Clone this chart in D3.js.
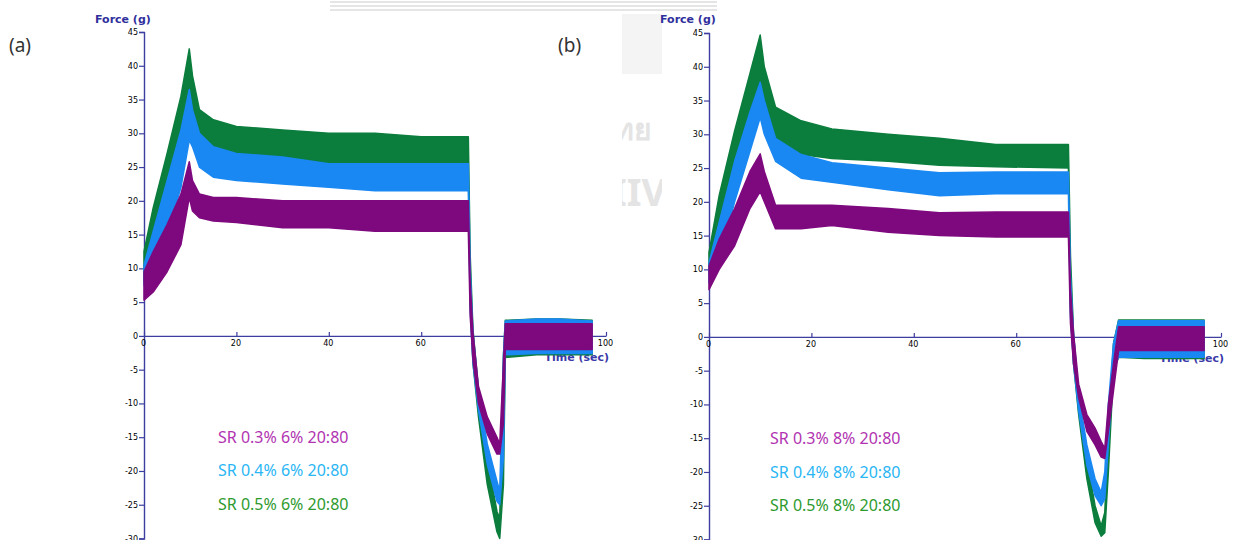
<!DOCTYPE html>
<html>
<head>
<meta charset="utf-8">
<script src="https://cdn.jsdelivr.net/npm/d3@7"></script>
<style>
  body { margin: 0; background: #fff; }
  svg { display: block; }
</style>
</head>
<body>
<div id="chart"></div>
<script>
// Force (g) vs Time (sec) traces, two panels, noisy traces drawn as hi/lo bands

// panel (a) - 6%
const timeA      = [0, 2, 5, 8, 9.8, 10.5, 12, 15, 20, 30, 40, 50, 60, 70.2, 70.6, 71.2, 72.4, 74.3, 76.4, 77.0, 77.8, 78.2, 85, 90, 97];
const greenHiA   = [12.5, 19, 27, 35.5, 42.5, 38.5, 33.5, 32, 31, 30.5, 30, 30, 29.5, 29.5, 12, 1, -8, -18, -26, -27, -3, 2.3, 2.5, 2.5, 2.3];
const greenLoA   = [8, 11, 17.5, 26, 32, 30.5, 28.5, 27, 26.5, 26, 25.5, 25.5, 25, 25, 5, -4, -12, -22, -29, -30, -22, -3.2, -2.8, -2.8, -2.8];
const blueHiA    = [10.5, 15.5, 23, 30.5, 36.5, 33.5, 30, 28, 27, 26.5, 25.5, 25.5, 25.5, 25.5, 10, 0.5, -8, -16, -21.5, -23, -3, 2.2, 2.5, 2.5, 2.2];
const blueLoA    = [7.5, 9.5, 15, 22, 29, 28, 25, 23.5, 23, 22.5, 22, 21.5, 21.5, 21.5, 4, -4, -11, -19, -24.5, -25, -18, -2.8, -2.6, -2.6, -2.6];
const purpleHiA  = [9.5, 12.5, 16.5, 21, 25.8, 23, 21, 20.5, 20.5, 20, 20, 20, 20, 20, 8, 0.5, -7.5, -12, -15, -16, -4, 1.8, 1.8, 1.8, 1.8];
const purpleLoA  = [5.3, 6.5, 9.5, 13.5, 20.5, 18.5, 17.5, 17, 16.8, 16, 16, 15.5, 15.5, 15.5, 3, -3.5, -10, -14.5, -17.5, -17.5, -13, -2, -2, -2, -2];

// panel (b) - 8%
const timeB      = [0, 2, 5, 8, 10, 10.8, 13, 18, 24, 35, 45, 56, 70.2, 70.6, 71.2, 72.2, 73.8, 75.4, 76.6, 77.3, 78, 79, 80, 85, 90, 96.7];
const greenHiB   = [12.5, 21, 30.5, 39, 44.7, 40, 34, 32, 30.8, 30, 29.4, 28.5, 28.5, 12, 0.5, -9, -18, -25, -28, -26, -14, -1, 2.5, 2.5, 2.5, 2.5];
const greenLoB   = [9, 13.5, 22.5, 30.5, 38, 33, 28.3, 27, 26.4, 26, 25.4, 25.2, 25, 4, -4, -11.5, -21, -27.5, -29.5, -29, -20, -5, -3, -3.2, -3.2, -3.2];
const blueHiB    = [11, 17, 26, 33.3, 37.7, 35, 29.4, 27, 25.8, 25, 24.3, 24.4, 24.4, 9, 0.5, -8.5, -16, -21, -23, -20, -10, -1, 2.4, 2.4, 2.4, 2.4];
const blueLoB    = [8, 11, 20, 27.5, 32.5, 30, 26, 23.5, 22.9, 21.8, 20.9, 21.2, 21.2, 3, -4, -11, -19, -23.5, -25, -24, -16, -4.5, -3, -3, -3, -3];
const purpleHiB  = [10.5, 14.5, 19, 24.5, 27.1, 24.5, 19.5, 19.5, 19.5, 19, 18.4, 18.5, 18.5, 7, 0.5, -7, -11.5, -13.5, -15.5, -16.5, -10, -4, 1.5, 1.5, 1.5, 1.5];
const purpleLoB  = [7, 10, 13.5, 19, 21.5, 20, 16, 16, 16.5, 15.5, 15, 14.8, 14.8, 2, -4, -9, -14, -16, -17.8, -18, -14, -8, -2, -2, -2, -2];

const legendA = ["SR 0.3% 6% 20:80", "SR 0.4% 6% 20:80", "SR 0.5% 6% 20:80"];
const legendB = ["SR 0.3% 8% 20:80", "SR 0.4% 8% 20:80", "SR 0.5% 8% 20:80"];

const xTicks = [0, 20, 40, 60, 80, 100];
const yTicks = [-30, -25, -20, -15, -10, -5, 0, 5, 10, 15, 20, 25, 30, 35, 40, 45];

const traceColors  = { green: "#0b7d3d", blue: "#1a88f2", purple: "#7e097e" };
const legendColors = ["#b133b1", "#2ab6f4", "#2e9a2e"];
const axisColor = "#3e3ea0";

const svg = d3.select("#chart")
    .append("svg")
    .attr("width", 1241)
    .attr("height", 540)
    .style("background", "#fff");

// faint watermark from the source page
const wm = svg.append("g").attr("fill", "none").attr("stroke", "#dcdcdc");
[2, 6, 10].forEach(yy => {
    wm.append("line").attr("x1", 330).attr("x2", 717).attr("y1", yy).attr("y2", yy).attr("stroke-width", 1.6);
});
svg.append("rect").attr("x", 622).attr("y", 14).attr("width", 40).attr("height", 60).attr("fill", "#f4f4f4");
svg.append("defs").append("clipPath").attr("id", "wmclip")
    .append("rect").attr("x", 622).attr("y", 100).attr("width", 40).attr("height", 120);
const wmText = svg.append("g").attr("clip-path", "url(#wmclip)")
    .attr("fill", "#e4e4e4").style("font-family", "Noto Sans, sans-serif").style("font-weight", "bold");
wmText.append("text").attr("x", 614).attr("y", 140).style("font-size", "30px").text("ทย");
wmText.append("text").attr("x", 612).attr("y", 206).style("font-size", "38px").text("IIV");

const panels = [
    {
        label: "(a)", labelX: 9,
        xRange: [144, 606], yRange: [538.5, 32],
        time: timeA, legend: legendA, legendX: 218, legendY: 442.5,
        series: [
            { color: traceColors.green,  hi: greenHiA,  lo: greenLoA },
            { color: traceColors.blue,   hi: blueHiA,   lo: blueLoA },
            { color: traceColors.purple, hi: purpleHiA, lo: purpleLoA }
        ]
    },
    {
        label: "(b)", labelX: 558,
        xRange: [709, 1221], yRange: [539.5, 33],
        time: timeB, legend: legendB, legendX: 770, legendY: 444,
        series: [
            { color: traceColors.green,  hi: greenHiB,  lo: greenLoB },
            { color: traceColors.blue,   hi: blueHiB,   lo: blueLoB },
            { color: traceColors.purple, hi: purpleHiB, lo: purpleLoB }
        ]
    }
];

panels.forEach(p => {
    const x = d3.scaleLinear().domain([0, 100]).range(p.xRange);
    const y = d3.scaleLinear().domain([-30, 45]).range(p.yRange);
    const g = svg.append("g");

    // panel tag
    g.append("text")
        .attr("x", p.labelX)
        .attr("y", 52)
        .style("font-family", "Noto Sans, sans-serif")
        .style("font-size", "19px")
        .attr("fill", "#333")
        .text(p.label);

    // y axis
    const yAxis = g.append("g")
        .attr("transform", `translate(${x(0)},0)`)
        .call(d3.axisLeft(y).tickValues(yTicks).tickSize(5).tickPadding(1).tickFormat(d => String(d)));

    // x axis at zero
    const xAxis = g.append("g")
        .attr("transform", `translate(0,${y(0)})`)
        .call(d3.axisBottom(x).tickValues(xTicks).tickSizeInner(-4).tickSizeOuter(0).tickPadding(3));

    [yAxis, xAxis].forEach(ax => {
        ax.select(".domain").attr("stroke", axisColor).attr("stroke-width", 1.4);
        ax.selectAll(".tick line").attr("stroke", axisColor).attr("stroke-width", 1.2);
        ax.selectAll(".tick text")
            .attr("fill", "#000")
            .style("font-family", "DejaVu Sans, sans-serif")
            .style("font-size", "8px");
    });
    xAxis.selectAll(".tick text").attr("dy", "0.9em").attr("dx", "-1");

    g.append("text")
        .attr("x", x(0) - 49)
        .attr("y", 23)
        .attr("fill", "#30309c")
        .style("font-family", "DejaVu Sans, sans-serif")
        .style("font-weight", "bold")
        .style("font-size", "11px")
        .text("Force (g)");

    g.append("text")
        .attr("x", p.xRange[1] + 3)
        .attr("y", y(0) + 25)
        .attr("text-anchor", "end")
        .attr("fill", "#3a3aa8")
        .style("font-family", "DejaVu Sans, sans-serif")
        .style("font-weight", "bold")
        .style("font-size", "11px")
        .text("Time (sec)");

    // traces as bands between the noise envelopes
    const area = d3.area()
        .x((d, i) => x(p.time[i]))
        .y0(d => y(d[0]))
        .y1(d => y(d[1]));

    p.series.forEach(s => {
        const pts = s.hi.map((h, i) => [s.lo[i], h]);
        g.append("path")
            .datum(pts)
            .attr("d", area)
            .attr("fill", s.color)
            .attr("stroke", s.color)
            .attr("stroke-width", 1.5)
            .attr("stroke-linejoin", "round");
    });

    // legend text
    g.selectAll("text.legend")
        .data(p.legend)
        .enter()
        .append("text")
        .attr("class", "legend")
        .attr("x", p.legendX)
        .attr("y", (d, i) => p.legendY + i * 33.7)
        .attr("fill", (d, i) => legendColors[i])
        .style("font-family", "Noto Sans, sans-serif")
        .style("font-size", "16px")
        .text(d => d);
});
</script>
</body>
</html>
